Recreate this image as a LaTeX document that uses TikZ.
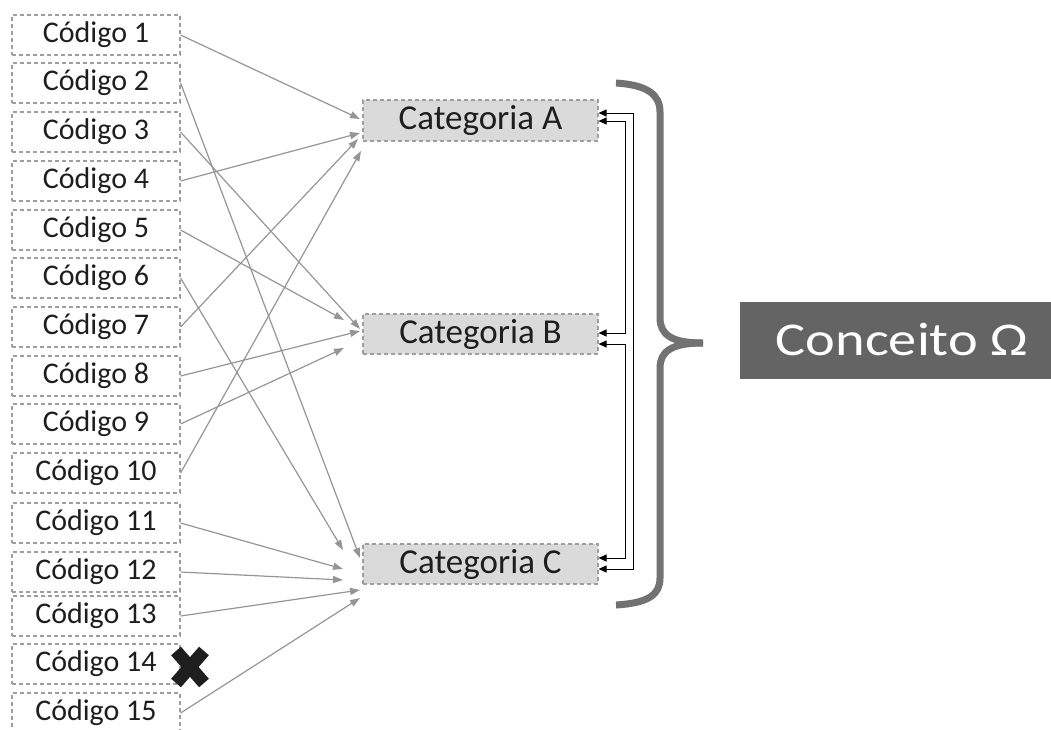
\documentclass[tikz,border=0pt]{standalone}
\usepackage{fontspec}
\setmainfont{Carlito}
\newfontfamily\widefont[FakeStretch=1.2]{Carlito}
\usetikzlibrary{arrows.meta}
\definecolor{dashgray}{HTML}{9E9E9E}
\definecolor{arrgray}{HTML}{959595}
\definecolor{catfill}{HTML}{DADADA}
\definecolor{txt}{HTML}{1E1E1E}
\definecolor{bracegray}{HTML}{727272}
\definecolor{concfill}{HTML}{646464}
\begin{document}
\begin{tikzpicture}[x=1pt,y=-1pt,
  codebox/.style={draw=dashgray, dash pattern=on 4pt off 3pt, line width=1.1pt,
    minimum width=168pt, minimum height=40pt, inner sep=0pt,
    font=\fontsize{30}{31}\selectfont, text=txt},
  catbox/.style={draw=dashgray, dash pattern=on 4pt off 3pt, line width=1.1pt,
    fill=catfill, minimum width=235pt, minimum height=40pt, inner sep=0pt,
    font=\fontsize{35}{36}\selectfont, text=txt},
  garrow/.style={draw=arrgray, line width=1.2pt, -{Triangle[length=10pt,width=7pt]}},
  barrow/.style={draw=black, line width=1pt,
    {Triangle[length=8pt,width=7pt]}-{Triangle[length=8pt,width=7pt]}},
  bracestroke/.style={draw=bracegray, line width=7pt},
  concbox/.style={fill=concfill, minimum width=324pt, minimum height=77pt, inner sep=0pt,
    text=white},
]
\useasboundingbox (0,0) rectangle (1051,729);

% code boxes
\node[codebox] (k1)  at (96,35)  {Código 1};
\node[codebox] (k2)  at (96,83)  {Código 2};
\node[codebox] (k3)  at (96,132) {Código 3};
\node[codebox] (k4)  at (96,181) {Código 4};
\node[codebox] (k5)  at (96,230) {Código 5};
\node[codebox] (k6)  at (96,278) {Código 6};
\node[codebox] (k7)  at (96,327) {Código 7};
\node[codebox] (k8)  at (96,376) {Código 8};
\node[codebox] (k9)  at (96,424) {Código 9};
\node[codebox] (k10) at (96,473) {Código 10};
\node[codebox] (k11) at (96,523) {Código 11};
\node[codebox] (k12) at (96,572) {Código 12};
\node[codebox] (k13) at (96,616) {Código 13};
\node[codebox] (k14) at (96,664) {Código 14};
\node[codebox] (k15) at (96,713) {Código 15};

% categories
\node[catbox, minimum height=41pt] (cA) at (480.5,120.5) {Categoria A};
\node[catbox] (cB) at (480.5,334) {Categoria B};
\node[catbox] (cC) at (480.5,564) {Categoria C};

% arrow tips
\coordinate (tA1) at (360,119);
\coordinate (tA4) at (360,133);
\coordinate (tA7) at (358,139);
\coordinate (tA10) at (361,151);
\coordinate (tB5) at (344,320);
\coordinate (tB3) at (360,329);
\coordinate (tB8) at (360,331);
\coordinate (tB9) at (344,348);
\coordinate (tC6) at (343,550);
\coordinate (tC2) at (360,558);
\coordinate (tC11) at (343,569);
\coordinate (tC12) at (343,580);
\coordinate (tC13) at (360,590);
\coordinate (tC15) at (360,598);

\draw[garrow] (k1.east) -- (tA1);
\draw[garrow] (k4.east) -- (tA4);
\draw[garrow] (k7.east) -- (tA7);
\draw[garrow] (k10.east) -- (tA10);
\draw[garrow] (k5.east) -- (tB5);
\draw[garrow] (k3.east) -- (tB3);
\draw[garrow] (k8.east) -- (tB8);
\draw[garrow] (k9.east) -- (tB9);
\draw[garrow] (k6.east) -- (tC6);
\draw[garrow] (k2.east) -- (tC2);
\draw[garrow] (k11.east) -- (tC11);
\draw[garrow] (k12.east) -- (tC12);
\draw[garrow] (k13.east) -- (tC13);
\draw[garrow] (k15.east) -- (tC15);

% black double arrows
\draw[barrow] ([yshift=7.5pt]cA.east) -- ++(35,0) |- ([yshift=-5pt]cC.east);
\draw[barrow] ([yshift=-0.5pt]cA.east) -- ++(27,0) |- ([yshift=1pt]cB.east);
\draw[barrow] ([yshift=-10pt]cB.east) -- ++(27,0) |- ([yshift=6pt]cC.east);

% brace
\draw[bracestroke] (616,83) .. controls (648,85) and (660,95) .. (660,112) -- (660,318)
  .. controls (660,335) and (672,343) .. (703,343);
\draw[bracestroke] (703,343) .. controls (672,343) and (660,351) .. (660,368) -- (660,578)
  .. controls (660,595) and (648,603) .. (616,605);

% concept
\node[concbox] (con) at (902,340.5) {\raisebox{2pt}{\widefont\fontsize{47}{48}\selectfont Conceito Ω}};

% cross
\draw[line width=13pt, txt] (176,651) -- (204,683) (204,651) -- (176,683);
\end{tikzpicture}
\end{document}
